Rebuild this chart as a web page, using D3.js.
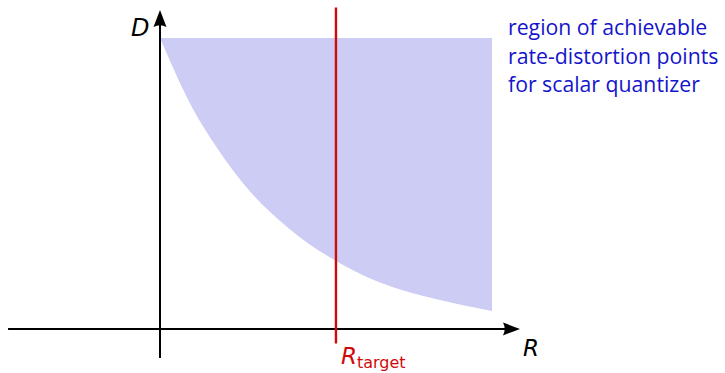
<!DOCTYPE html>
<html>
<head>
<meta charset="utf-8">
<script src="https://cdn.jsdelivr.net/npm/d3@7"></script>
<style>
  html, body { margin: 0; padding: 0; background: #fff; }
  svg { display: block; }
</style>
</head>
<body>
<svg id="chart" width="725" height="373"></svg>
<script>
// ---- data ----
const curveR = [0, 0.2, 0.4, 0.7, 1.0, 1.3, 1.6, 2.0, 2.5, 3.0];
const curveD = [1.0, 0.83, 0.69, 0.525, 0.40, 0.305, 0.232, 0.158, 0.102, 0.062];
const regionTopD = [1.0];
const rTarget = [1.59];
const axisRExtent = [-1.373, 3.253];
const axisDExtent = [-0.1, 1.096];
const targetLineD = [-0.05, 1.105];
const legendLines = ["region of achievable", "rate-distortion points", "for scalar quantizer"];
const axisLabels = { x: "R", y: "D", target: "R", targetSub: "target" };

// ---- scales ----
const x = d3.scaleLinear().domain([0, 3]).range([160, 492]);
const y = d3.scaleLinear().domain([0, 1]).range([329, 38]);

const svg = d3.select("#chart");
const pts = curveR.map((r, i) => ({ r, d: curveD[i] }));

// shaded region
const area = d3.area()
  .x(p => x(p.r))
  .y0(() => y(regionTopD[0]))
  .y1(p => y(p.d))
  .curve(d3.curveNatural);
svg.append("path").datum(pts).attr("d", area).attr("fill", "#ccccf4");

// axes
const axisColor = "#000";
svg.append("line")
  .attr("x1", x(axisRExtent[0])).attr("x2", x(axisRExtent[1]) - 6)
  .attr("y1", y(0)).attr("y2", y(0))
  .attr("stroke", axisColor).attr("stroke-width", 2);
svg.append("line")
  .attr("x1", x(0)).attr("x2", x(0))
  .attr("y1", y(axisDExtent[0])).attr("y2", y(axisDExtent[1]) + 6)
  .attr("stroke", axisColor).attr("stroke-width", 2);

// arrowheads (latex style)
function arrowHead(tx, ty, angle) {
  const L = 17, W = 6.5;
  const p = d3.path();
  p.moveTo(0, 0);
  p.quadraticCurveTo(-L * 0.45, -W * 0.45, -L, -W);
  p.quadraticCurveTo(-L * 0.8, 0, -L, W);
  p.quadraticCurveTo(-L * 0.45, W * 0.45, 0, 0);
  p.closePath();
  svg.append("path").attr("d", p.toString())
    .attr("transform", `translate(${tx},${ty}) rotate(${angle})`)
    .attr("fill", axisColor);
}
arrowHead(x(axisRExtent[1]), y(0), 0);
arrowHead(x(0), y(axisDExtent[1]), -90);

// R_target line
svg.append("line")
  .attr("x1", x(rTarget[0])).attr("x2", x(rTarget[0]))
  .attr("y1", y(targetLineD[0])).attr("y2", y(targetLineD[1]))
  .attr("stroke", "#d00a0a").attr("stroke-width", 2.4);

const font = "'DejaVu Sans', 'Liberation Sans', sans-serif";

// axis labels
svg.append("text").text(axisLabels.y)
  .attr("x", 131).attr("y", 36)
  .attr("font-family", font).attr("font-style", "italic").attr("font-size", 24)
  .attr("fill", "#000");
svg.append("text").text(axisLabels.x)
  .attr("x", 523).attr("y", 356)
  .attr("font-family", font).attr("font-style", "italic").attr("font-size", 23)
  .attr("fill", "#000");

const tgt = svg.append("text")
  .attr("x", x(rTarget[0]) + 5).attr("y", 364)
  .attr("font-family", font).attr("fill", "#d00a0a");
tgt.append("tspan").text(axisLabels.target)
  .attr("font-style", "italic").attr("font-size", 23);
tgt.append("tspan").text(axisLabels.targetSub)
  .attr("font-size", 16).attr("dy", 4);

// legend text
const legendTargetWidths = [200, 212, 190];
const legendEls = legendLines.map((t, i) => {
  const el = svg.append("text").text(t)
    .attr("x", 508).attr("y", 35 + i * 28.5)
    .attr("font-family", "'Open Sans', 'Liberation Sans', sans-serif")
    .attr("font-size", 19)
    .attr("fill", "#1414cc");
  return el;
});
const fitSizes = legendEls.map((el, i) => 19 * legendTargetWidths[i] / el.node().getComputedTextLength());
const avg = d3.mean(fitSizes);
legendEls.forEach(el => el.attr("font-size", avg));
</script>
</body>
</html>
